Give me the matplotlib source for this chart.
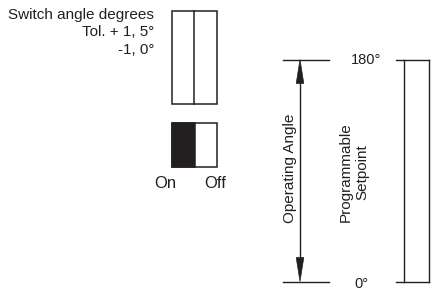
import matplotlib.pyplot as plt
from matplotlib.patches import Rectangle, Polygon

plt.rcParams['font.family'] = ['Liberation Sans', 'DejaVu Sans']

# labels / values
tol_lines = ["Switch angle degrees", "Tol. + 1, 5\u00b0", "-1, 0\u00b0"]
switch_states = ["On", "Off"]
angle_range = [180, 0]
angle_label = "Operating Angle"
setpoint_label = "Programmable\nSetpoint"

ink = '#231f20'
fs = 11

fig = plt.figure(figsize=(4.42, 2.90), dpi=100)
ax = fig.add_axes([0, 0, 1, 1])
ax.set_xlim(0, 442)
ax.set_ylim(290, 0)
ax.axis('off')

# tolerance text
for i, t in enumerate(tol_lines):
    ax.text(154, 18.5 + i * 18, t, ha='right', va='baseline', fontsize=fs, color=ink)

# dip switch body (top)
ax.add_patch(Rectangle((171.5, 10.5), 45, 93.5, fill=False, ec=ink, lw=1.1))
ax.plot([193.5, 193.5], [10.5, 104], color=ink, lw=1.1)

# on/off switch
ax.add_patch(Rectangle((171.5, 122.5), 23, 44, fc=ink, ec=ink, lw=1.1))
ax.add_patch(Rectangle((171.5, 122.5), 45, 44, fill=False, ec=ink, lw=1.1))
ax.text(165.5, 188, switch_states[0], ha='center', va='baseline', fontsize=fs + 1, color=ink)
ax.text(215.5, 188, switch_states[1], ha='center', va='baseline', fontsize=fs + 1, color=ink)

# angle scale
y_top, y_bot = 59.5, 281.5
xa = 300
for y, val, xt, dy in zip([y_top, y_bot], angle_range, [366, 361.5], [0.5, 2.5]):
    ax.plot([282.5, 328.5], [y, y], color=ink, lw=1.0)
    ax.plot([395.5, 429], [y, y], color=ink, lw=1.0)
    ax.text(xt, y + dy, f"{val}\u00b0", ha='center', va='center', fontsize=fs - 0.5, color=ink)

# double-headed arrow
ax.plot([xa, xa], [y_top + 20, y_bot - 20], color=ink, lw=1.0)
hl, hw = 24, 3.8
ax.add_patch(Polygon([(xa, y_top), (xa - hw, y_top + hl), (xa + hw, y_top + hl)], closed=True, fc=ink, ec=ink, lw=0.5))
ax.add_patch(Polygon([(xa, y_bot), (xa - hw, y_bot - hl), (xa + hw, y_bot - hl)], closed=True, fc=ink, ec=ink, lw=0.5))

ax.text(290, 168.5, angle_label, rotation=90, ha='center', va='center', fontsize=fs, color=ink)
ax.text(354, 172.5, setpoint_label, rotation=90, ha='center', va='center', fontsize=fs, color=ink,
        multialignment='center', linespacing=1.2)

# setpoint bar
ax.plot([404, 404], [y_top, y_bot], color=ink, lw=1.0)
ax.plot([429, 429], [y_top, y_bot], color=ink, lw=1.0)

fig.savefig('out.png', dpi=100)
